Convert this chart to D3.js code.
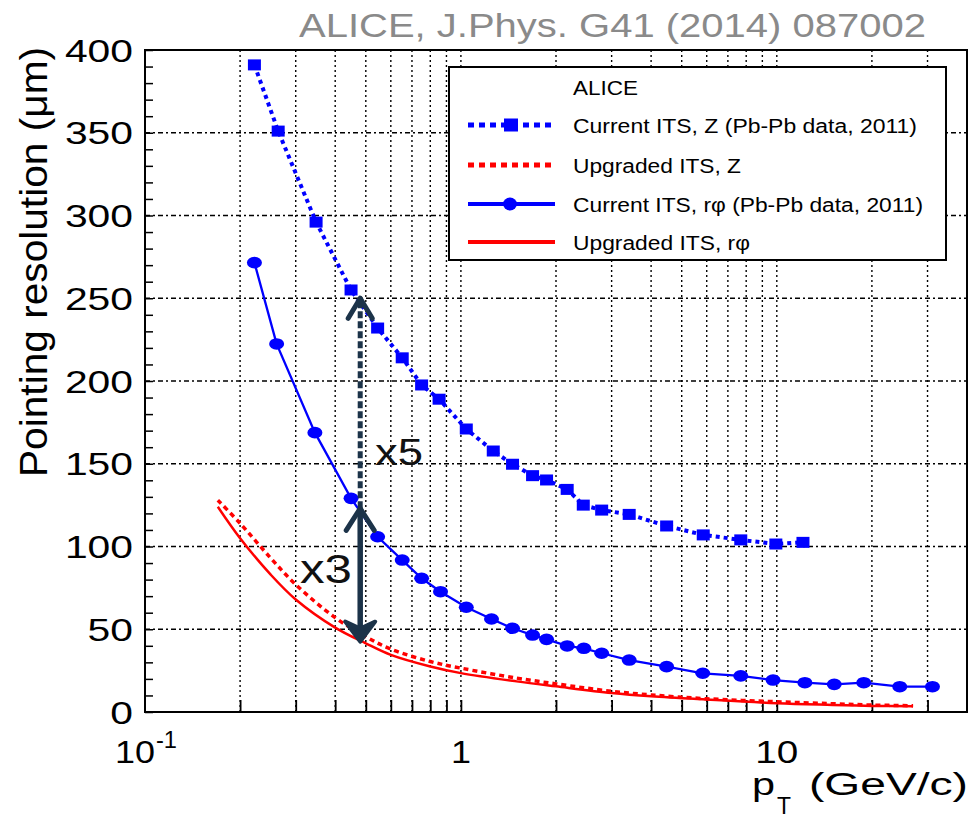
<!DOCTYPE html>
<html>
<head>
<meta charset="utf-8">
<script src="https://cdn.jsdelivr.net/npm/d3@7"></script>
<style>
  html, body { margin: 0; padding: 0; background: #fff; }
  svg { display: block; }
  text { font-family: "Liberation Sans", Arial, Helvetica, sans-serif; }
</style>
</head>
<body>
<svg id="chart" width="971" height="819"></svg>
<script>
// ---------------- data ----------------
const pTCurrentZ = [0.222, 0.264, 0.348, 0.449, 0.545, 0.652, 0.751, 0.853, 1.04, 1.266, 1.457, 1.686, 1.867, 2.17, 2.44, 2.79, 3.41, 4.48, 5.85, 7.69, 9.93, 12.1];
const resCurrentZ = [391, 351, 296, 255, 232, 214, 197.6, 189, 171, 157.7, 149.7, 142.8, 140.2, 134.5, 125, 122, 119.4, 112.4, 107, 104, 101.5, 102.5];

const pTCurrentRphi = [0.222, 0.261, 0.345, 0.449, 0.545, 0.652, 0.751, 0.862, 1.04, 1.25, 1.457, 1.686, 1.867, 2.17, 2.45, 2.79, 3.41, 4.48, 5.83, 7.69, 9.73, 12.27, 15.2, 18.85, 24.5, 31.1];
const resCurrentRphi = [271.5, 222.4, 168.8, 129.1, 105.9, 91.8, 80.8, 72.7, 63.3, 56.2, 50.6, 46.5, 43.9, 39.9, 38.5, 35.5, 31.4, 27.4, 23.4, 21.8, 19.3, 17.7, 16.7, 17.7, 15.3, 15.3];

const pTUpgraded = [0.17, 0.2, 0.25, 0.3, 0.4, 0.5, 0.6, 0.8, 1, 1.5, 2, 3, 4, 6, 10, 15, 20, 27];
const resUpgradedZ = [128, 114, 93, 77, 57, 45.5, 38, 30.5, 26.5, 20.5, 17, 12.5, 10.3, 8, 6.2, 5, 4.2, 3.8];
const resUpgradedRphi = [124, 105, 83, 68, 51, 41.5, 34.5, 27.5, 23.5, 18.5, 15.5, 11.5, 9.5, 7.5, 5.3, 4.3, 3.7, 3.4];

const yTickValues = [0, 50, 100, 150, 200, 250, 300, 350, 400];
const xGridValues = [0.2, 0.3, 0.4, 0.5, 0.6, 0.7, 0.8, 0.9, 1, 2, 3, 4, 5, 6, 7, 8, 9, 10, 20, 30];
const xLabelValues = [0.1, 1, 10];

const legendLabels = ["Current ITS, Z (Pb-Pb data, 2011)", "Upgraded ITS, Z", "Current ITS, r\u03C6 (Pb-Pb data, 2011)", "Upgraded ITS, r\u03C6"];
const legendWidths = [344, 168, 350, 177];

// annotation (double arrows) in data units
const arrowPt = 0.48;
const arrowTop = 250, arrowMid = 123, arrowBottom = 42.5;

// ---------------- layout ----------------
const svg = d3.select("#chart");
const L = 145, R = 967, T = 50, B = 712;
const x = d3.scaleLog().domain([0.1, 40]).range([L, R]);
const y = d3.scaleLinear().domain([0, 400]).range([B, T]);

const blue = "#0000ff", red = "#ff0000", navy = "#1c3349";

// gray citation
svg.append("text").attr("x", 299).attr("y", 37)
  .attr("font-family", "'Liberation Sans Narrow', 'DejaVu Sans Condensed', sans-serif")
  .attr("font-size", 33).attr("fill", "#8a8a8a")
  .attr("textLength", 627).attr("lengthAdjust", "spacingAndGlyphs")
  .text("ALICE, J.Phys. G41 (2014) 087002");

// grid
const grid = svg.append("g");
grid.selectAll("line.vg").data(xGridValues).join("line")
  .attr("x1", d => x(d)).attr("x2", d => x(d)).attr("y1", T).attr("y2", B)
  .attr("stroke", "#000").attr("stroke-width", 1.4).attr("stroke-dasharray", "2,3");
grid.selectAll("line.hg").data(yTickValues.filter(v => v > 0 && v < 400)).join("line")
  .attr("x1", L).attr("x2", R).attr("y1", d => y(d)).attr("y2", d => y(d))
  .attr("stroke", "#000").attr("stroke-width", 1.4).attr("stroke-dasharray", "5,3,2,3");

// axes via d3
const yAxis = d3.axisRight(y).tickValues(d3.range(0, 401, 10)).tickSize(8).tickFormat("");
svg.append("g").attr("transform", `translate(${L},0)`).call(yAxis)
  .call(g => g.select(".domain").remove())
  .call(g => g.selectAll(".tick line").attr("stroke-width", 1.5));
const xAxis = d3.axisTop(x).tickValues(xGridValues).tickSize(12).tickFormat("");
svg.append("g").attr("transform", `translate(0,${B})`).call(xAxis)
  .call(g => g.select(".domain").remove())
  .call(g => g.selectAll(".tick line").attr("stroke-width", 1.8));

// y tick labels (stretched horizontally like the original)
yTickValues.forEach(v => {
  const s = String(v);
  svg.append("text").attr("x", 133).attr("y", y(v) + 11.5)
    .attr("text-anchor", "end").attr("font-size", 32).attr("fill", "#000")
    .attr("textLength", 22.7 * s.length).attr("lengthAdjust", "spacingAndGlyphs")
    .text(s);
});

// x tick labels
const xl = svg.append("g");
xl.append("text").attr("x", 115).attr("y", 763).attr("font-size", 32)
  .attr("textLength", 40).attr("lengthAdjust", "spacingAndGlyphs").text("10");
xl.append("text").attr("x", 156).attr("y", 748).attr("font-size", 23)
  .attr("textLength", 21).attr("lengthAdjust", "spacingAndGlyphs").text("-1");
xl.append("text").attr("x", x(1)).attr("y", 763).attr("font-size", 32).attr("text-anchor", "middle")
  .attr("textLength", 20).attr("lengthAdjust", "spacingAndGlyphs").text("1");
xl.append("text").attr("x", x(10)).attr("y", 763).attr("font-size", 32).attr("text-anchor", "middle")
  .attr("textLength", 43).attr("lengthAdjust", "spacingAndGlyphs").text("10");

// x title
svg.append("text").attr("x", 752).attr("y", 795).attr("font-size", 31)
  .attr("textLength", 23).attr("lengthAdjust", "spacingAndGlyphs").text("p");
svg.append("text").attr("x", 777).attr("y", 814).attr("font-size", 23)
  .attr("textLength", 14).attr("lengthAdjust", "spacingAndGlyphs").text("T");
svg.append("text").attr("x", 809).attr("y", 795).attr("font-size", 31)
  .attr("textLength", 159).attr("lengthAdjust", "spacingAndGlyphs").text("(GeV/c)");

// y title
svg.append("text").attr("transform", "translate(47,262) rotate(-90)")
  .attr("text-anchor", "middle").attr("font-size", 38)
  .attr("textLength", 430).attr("lengthAdjust", "spacingAndGlyphs")
  .text("Pointing resolution  (\u03BCm)");

// ---------------- series ----------------
const line = d3.line().x(d => x(d[0])).y(d => y(d[1]));
const curve = d3.line().x(d => x(d[0])).y(d => y(d[1])).curve(d3.curveCatmullRom.alpha(0.5));

const zData = d3.zip(pTCurrentZ, resCurrentZ);
const rData = d3.zip(pTCurrentRphi, resCurrentRphi);
const uz = d3.zip(pTUpgraded, resUpgradedZ);
const ur = d3.zip(pTUpgraded, resUpgradedRphi);

svg.append("path").datum(ur).attr("d", curve).attr("fill", "none")
  .attr("stroke", red).attr("stroke-width", 2.5);
svg.append("path").datum(uz).attr("d", curve).attr("fill", "none")
  .attr("stroke", red).attr("stroke-width", 3.5).attr("stroke-dasharray", "5,4");

svg.append("path").datum(zData).attr("d", line).attr("fill", "none")
  .attr("stroke", blue).attr("stroke-width", 4).attr("stroke-dasharray", "4,4");
svg.append("path").datum(rData).attr("d", line).attr("fill", "none")
  .attr("stroke", blue).attr("stroke-width", 2.3);

svg.append("g").selectAll("rect").data(zData).join("rect")
  .attr("x", d => x(d[0]) - 6.5).attr("y", d => y(d[1]) - 5.5)
  .attr("width", 13).attr("height", 11).attr("fill", blue);
svg.append("g").selectAll("ellipse").data(rData).join("ellipse")
  .attr("cx", d => x(d[0])).attr("cy", d => y(d[1]))
  .attr("rx", 7.5).attr("ry", 5.8).attr("fill", blue);

// ---------------- arrows ----------------
const ax = x(arrowPt);
const ar = svg.append("g").attr("stroke", navy).attr("fill", "none")
  .attr("stroke-linecap", "round").attr("stroke-linejoin", "round");
ar.append("line").attr("x1", ax).attr("x2", ax).attr("y1", y(arrowTop) + 3).attr("y2", y(arrowMid))
  .attr("stroke-width", 5).attr("stroke-dasharray", "7,3").attr("stroke-linecap", "butt");
ar.append("line").attr("x1", ax).attr("x2", ax).attr("y1", y(arrowMid) + 2).attr("y2", y(arrowBottom) - 4)
  .attr("stroke-width", 5.5).attr("stroke-linecap", "butt");
ar.append("path").attr("stroke-width", 5)
  .attr("d", `M${ax - 12},${y(arrowTop) + 20} L${ax},${y(arrowTop)} L${ax + 12},${y(arrowTop) + 20}`);
ar.append("path").attr("stroke-width", 5)
  .attr("d", `M${ax - 14},${y(arrowMid) + 22} L${ax},${y(arrowMid)} L${ax + 14},${y(arrowMid) + 22}`);
ar.append("path").attr("stroke-width", 4).attr("fill", navy)
  .attr("d", `M${ax - 15},${y(arrowBottom) - 20} L${ax},${y(arrowBottom)} L${ax + 15},${y(arrowBottom) - 20} L${ax},${y(arrowBottom) - 13} Z`);

svg.append("text").attr("x", 375).attr("y", 465).attr("font-size", 37).attr("fill", "#111")
  .attr("textLength", 48).attr("lengthAdjust", "spacingAndGlyphs").text("x5");
svg.append("text").attr("x", 300).attr("y", 583).attr("font-size", 40).attr("fill", "#111")
  .attr("textLength", 52).attr("lengthAdjust", "spacingAndGlyphs").text("x3");

// ---------------- legend ----------------
const lg = svg.append("g");
lg.append("rect").attr("x", 449).attr("y", 67).attr("width", 497).attr("height", 193)
  .attr("fill", "#fff").attr("stroke", "#000").attr("stroke-width", 2);
lg.append("text").attr("x", 573).attr("y", 95).attr("font-size", 20)
  .attr("textLength", 65).attr("lengthAdjust", "spacingAndGlyphs").text("ALICE");
const rowsY = [125, 165, 204, 242];
const styles = [
  {c: blue, w: 5, dash: "6,5", m: "sq"},
  {c: red, w: 5, dash: "6,5", m: null},
  {c: blue, w: 4, dash: null, m: "ci"},
  {c: red, w: 4, dash: null, m: null}
];
legendLabels.forEach((lab, i) => {
  const s = styles[i], yy = rowsY[i];
  const l = lg.append("line").attr("x1", 468).attr("x2", 555).attr("y1", yy).attr("y2", yy)
    .attr("stroke", s.c).attr("stroke-width", s.w);
  if (s.dash) l.attr("stroke-dasharray", s.dash);
  if (s.m === "sq") lg.append("rect").attr("x", 504).attr("y", yy - 6.5).attr("width", 14).attr("height", 13).attr("fill", blue);
  if (s.m === "ci") lg.append("ellipse").attr("cx", 510).attr("cy", yy).attr("rx", 7).attr("ry", 6.5).attr("fill", blue);
  lg.append("text").attr("x", 573).attr("y", yy + 7.5).attr("font-size", 20)
    .attr("textLength", legendWidths[i]).attr("lengthAdjust", "spacingAndGlyphs").text(lab);
});

// frame
svg.append("rect").attr("x", L).attr("y", T).attr("width", R - L).attr("height", B - T)
  .attr("fill", "none").attr("stroke", "#000").attr("stroke-width", 2);
</script>
</body>
</html>
